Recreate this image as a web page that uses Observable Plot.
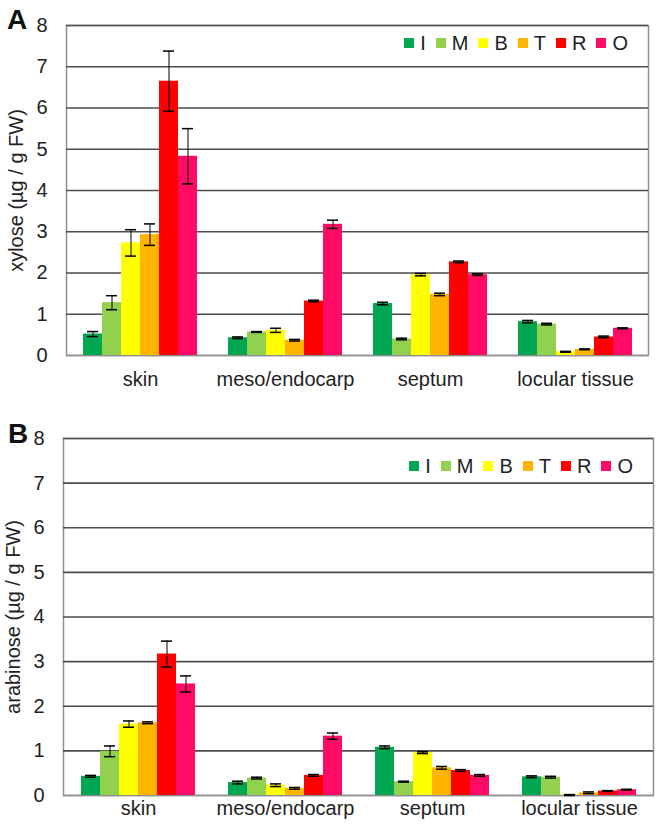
<!DOCTYPE html>
<html>
<head>
<meta charset="utf-8">
<script src="https://cdn.jsdelivr.net/npm/d3@7"></script>
<script src="https://cdn.jsdelivr.net/npm/@observablehq/plot@0.6"></script>
<style>
  html, body { margin: 0; padding: 0; background: #fff; }
  #wrap { position: relative; width: 663px; height: 829px; overflow: hidden; font-family: "Liberation Sans", Arial, sans-serif; }
  .panel { position: absolute; left: 0; }
  .letter { position: absolute; font-weight: bold; font-size: 28px; color: #111; font-family: "Liberation Sans", Arial, sans-serif; }
  .legend { position: absolute; display: flex; align-items: center; font-size: 20px; color: #222; }
  .legend .sw { width: 10px; height: 10px; margin-right: 6px; }
  .legend .lb { margin-right: 10px; line-height: 20px; }
  .legend .lb:last-child { margin-right: 0; }
</style>
</head>
<body>
<div id="wrap"></div>
<script>
const tissues = ["skin", "meso/endocarp", "septum", "locular tissue"];
const stages = ["I", "M", "B", "T", "R", "O"];
const stageColors = ["#00a651", "#92d050", "#ffff00", "#ffb400", "#ff0000", "#ff0a64"];
const yTicks = [0, 1, 2, 3, 4, 5, 6, 7, 8];

// xylose (µg / g FW): rows = tissues, columns = stages I M B T R O
const xyloseMean = [
  [0.52, 1.28, 2.73, 2.93, 6.65, 4.83],
  [0.43, 0.57, 0.61, 0.37, 1.32, 3.18],
  [1.26, 0.40, 1.96, 1.48, 2.27, 1.96],
  [0.82, 0.76, 0.09, 0.15, 0.45, 0.66]
];
const xyloseErr = [
  [0.06, 0.17, 0.32, 0.26, 0.73, 0.67],
  [0.02, 0.01, 0.05, 0.02, 0.02, 0.10],
  [0.03, 0.02, 0.03, 0.03, 0.02, 0.02],
  [0.03, 0.02, 0.01, 0.01, 0.02, 0.01]
];
// arabinose (µg / g FW)
const arabinoseMean = [
  [0.43, 0.99, 1.60, 1.63, 3.17, 2.50],
  [0.29, 0.39, 0.23, 0.16, 0.45, 1.33],
  [1.08, 0.31, 0.96, 0.62, 0.56, 0.45],
  [0.42, 0.41, 0.01, 0.06, 0.10, 0.13]
];
const arabinoseErr = [
  [0.02, 0.12, 0.07, 0.02, 0.29, 0.18],
  [0.03, 0.02, 0.03, 0.02, 0.02, 0.07],
  [0.03, 0.01, 0.02, 0.03, 0.02, 0.02],
  [0.02, 0.02, 0.01, 0.02, 0.01, 0.01]
];

function rowsOf(mean, err) {
  const rows = [];
  tissues.forEach((t, i) => stages.forEach((s, j) => rows.push({tissue: t, stage: s, value: mean[i][j], err: err[i][j]})));
  return rows;
}

const baseStyle = {fontFamily: "'Liberation Sans', Arial, sans-serif", fontSize: "20px", color: "#222", overflow: "visible"};

function background(o) {
  return Plot.plot({
    width: 663, height: o.height,
    marginLeft: o.marginLeft, marginRight: o.marginRight, marginTop: o.marginTop, marginBottom: o.marginBottom,
    style: {...baseStyle, background: "white"},
    x: {domain: [0, 1], axis: null},
    y: {domain: [0, 8], ticks: yTicks, tickSize: 0, tickPadding: 19, label: o.label, labelAnchor: "center", labelArrow: "none", labelOffset: 58},
    marks: [
      Plot.frame({stroke: "#8f8f8f", strokeWidth: 1.5}),
      Plot.ruleY(yTicks.slice(1), {stroke: "#4d4d4d", strokeWidth: 1.7}),
      Plot.ruleY([0], {stroke: "#8f8f8f", strokeWidth: 1.5})
    ]
  });
}

function bars(mean, err, o) {
  const rows = rowsOf(mean, err);
  return Plot.plot({
    width: 663, height: o.height,
    marginLeft: o.marginLeft, marginRight: o.marginRight, marginTop: o.marginTop, marginBottom: o.marginBottom,
    style: {...baseStyle, background: "transparent"},
    fx: {domain: tissues, paddingInner: 0.2, paddingOuter: 0.1, label: null, tickSize: 0, tickPadding: o.fxPad},
    x: {domain: stages, padding: 0, axis: null},
    y: {domain: [0, 8], axis: null},
    color: {domain: stages, range: stageColors},
    marks: [
      Plot.barY(rows, {fx: "tissue", x: "stage", y: "value", fill: "stage"}),
      Plot.ruleX(rows, {fx: "tissue", x: "stage", y1: d => d.value - d.err, y2: d => d.value + d.err, stroke: "#000", strokeWidth: 1}),
      Plot.tickY(rows, {fx: "tissue", x: "stage", y: d => d.value - d.err, stroke: "#000", strokeWidth: 1.5, insetLeft: 4, insetRight: 4}),
      Plot.tickY(rows, {fx: "tissue", x: "stage", y: d => d.value + d.err, stroke: "#000", strokeWidth: 1.5, insetLeft: 4, insetRight: 4})
    ]
  });
}

function legend(top, right) {
  const d = document.createElement("div");
  d.className = "legend";
  d.style.top = top + "px";
  d.style.right = right + "px";
  stages.forEach((s, i) => {
    const sw = document.createElement("span");
    sw.className = "sw";
    sw.style.background = stageColors[i];
    const lb = document.createElement("span");
    lb.className = "lb";
    lb.textContent = s;
    d.appendChild(sw);
    d.appendChild(lb);
  });
  return d;
}

const wrap = document.getElementById("wrap");

function addPanel(mean, err, o, top) {
  const bg = background(o);
  bg.classList.add("panel");
  bg.style.top = top + "px";
  wrap.appendChild(bg);
  const fg = bars(mean, err, o);
  fg.classList.add("panel");
  fg.style.top = top + "px";
  wrap.appendChild(fg);
}

addPanel(xyloseMean, xyloseErr, {height: 395, marginTop: 25, marginBottom: 40, marginLeft: 66, marginRight: 15, fxPad: 16, label: "xylose (µg / g FW)"}, 0);
addPanel(arabinoseMean, arabinoseErr, {height: 419, marginTop: 28, marginBottom: 34, marginLeft: 63, marginRight: 10, fxPad: 5, label: "arabinose (µg / g FW)"}, 410);

const la = document.createElement("div"); la.className = "letter"; la.textContent = "A"; la.style.left = "7px"; la.style.top = "4px"; wrap.appendChild(la);
const lb = document.createElement("div"); lb.className = "letter"; lb.textContent = "B"; lb.style.left = "8px"; lb.style.top = "418px"; wrap.appendChild(lb);

wrap.appendChild(legend(33, 35));
wrap.appendChild(legend(456, 30));
</script>
</body>
</html>
